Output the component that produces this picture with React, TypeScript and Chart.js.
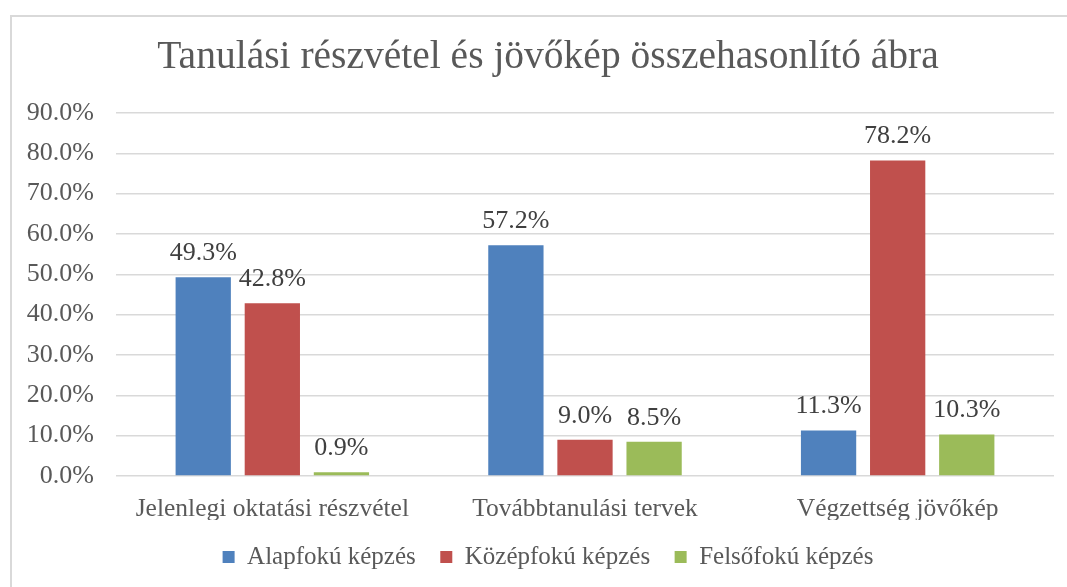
import React, { useEffect, useRef } from "react";
import { Chart, registerables } from "chart.js";

Chart.register(...registerables);

const titleText = "Tanulási részvétel és jövőkép összehasonlító ábra";
const categories = ["Jelenlegi oktatási részvétel", "Továbbtanulási tervek", "Végzettség jövőkép"];
const seriesNames = ["Alapfokú képzés", "Középfokú képzés", "Felsőfokú képzés"];
const alapfoku = [49.3, 57.2, 11.3];
const kozepfoku = [42.8, 9.0, 78.2];
const felsofoku = [0.9, 8.5, 10.3];
const seriesColors = ["#4F81BD", "#C0504D", "#9BBB59"];
const yMin = 0;
const yMax = 90;
const yStep = 10;

const FONT = "'Liberation Serif', 'Times New Roman', serif";

const valueLabels = {
  id: "valueLabels",
  afterDatasetsDraw(chart: any) {
    const ctx = chart.ctx;
    ctx.save();
    ctx.font = `26px ${FONT}`;
    ctx.fillStyle = "#404040";
    ctx.textAlign = "center";
    ctx.textBaseline = "middle";
    chart.data.datasets.forEach((ds: any, i: number) => {
      const meta = chart.getDatasetMeta(i);
      meta.data.forEach((bar: any, j: number) => {
        const v = ds.data[j] as number;
        ctx.fillText(v.toFixed(1) + "%", bar.x, bar.y - 24);
      });
    });
    ctx.restore();
  },
};

export default function App() {
  const ref = useRef<HTMLCanvasElement | null>(null);
  useEffect(() => {
    if (!ref.current) return;
    const series = [alapfoku, kozepfoku, felsofoku];
    const chart = new Chart(ref.current, {
      type: "bar",
      data: {
        labels: categories,
        datasets: series.map((d, i) => ({
          label: seriesNames[i],
          data: d,
          backgroundColor: seriesColors[i],
          borderWidth: 0,
          barPercentage: 0.8,
          categoryPercentage: 0.663,
        })),
      },
      options: {
        animation: false,
        responsive: false,
        maintainAspectRatio: false,
        layout: { padding: { top: 0, right: 0, bottom: 7.5, left: 0 } },
        plugins: {
          title: {
            display: true,
            text: titleText,
            color: "#595959",
            font: { family: FONT, size: 39.5, weight: "normal" },
            padding: { top: 34, bottom: 31.6 },
          },
          legend: {
            position: "bottom",
            labels: {
              color: "#595959",
              font: { family: FONT, size: 25 },
              boxWidth: 12,
              boxHeight: 12,
              padding: 24.5,
            },
          },
          tooltip: { enabled: false },
        },
        scales: {
          x: {
            grid: { display: false },
            border: { display: false },
            ticks: {
              color: "#595959",
              font: { family: FONT, size: 25.5 },
              padding: 10,
              maxRotation: 0,
            },
            afterFit: (s: any) => {
              s.height = 44;
            },
          },
          y: {
            min: yMin,
            max: yMax,
            grid: { color: "#D9D9D9", lineWidth: 1.5, drawTicks: false },
            border: { display: false },
            ticks: {
              stepSize: yStep,
              color: "#595959",
              font: { family: FONT, size: 26 },
              padding: 22,
              callback: (v: any) => Number(v).toFixed(1) + "%",
            },
            afterFit: (s: any) => {
              s.width = 116;
            },
          },
          yRightSpace: {
            position: "right",
            display: true,
            grid: { display: false },
            border: { display: false },
            ticks: { display: false },
            afterFit: (s: any) => {
              s.width = 42;
            },
          },
        },
      },
      plugins: [valueLabels],
    });
    return () => chart.destroy();
  }, []);

  return (
    <div style={{ position: "fixed", left: 0, top: 0, width: 1067, height: 587, background: "#fff", overflow: "hidden" }}>
      <div
        style={{
          position: "absolute",
          left: 10,
          top: 15,
          width: 1100,
          height: 700,
          border: "2px solid #D9D9D9",
        }}
      />
      <canvas ref={ref} width={1096} height={587} style={{ position: "absolute", left: 0, top: 0 }} />
    </div>
  );
}
